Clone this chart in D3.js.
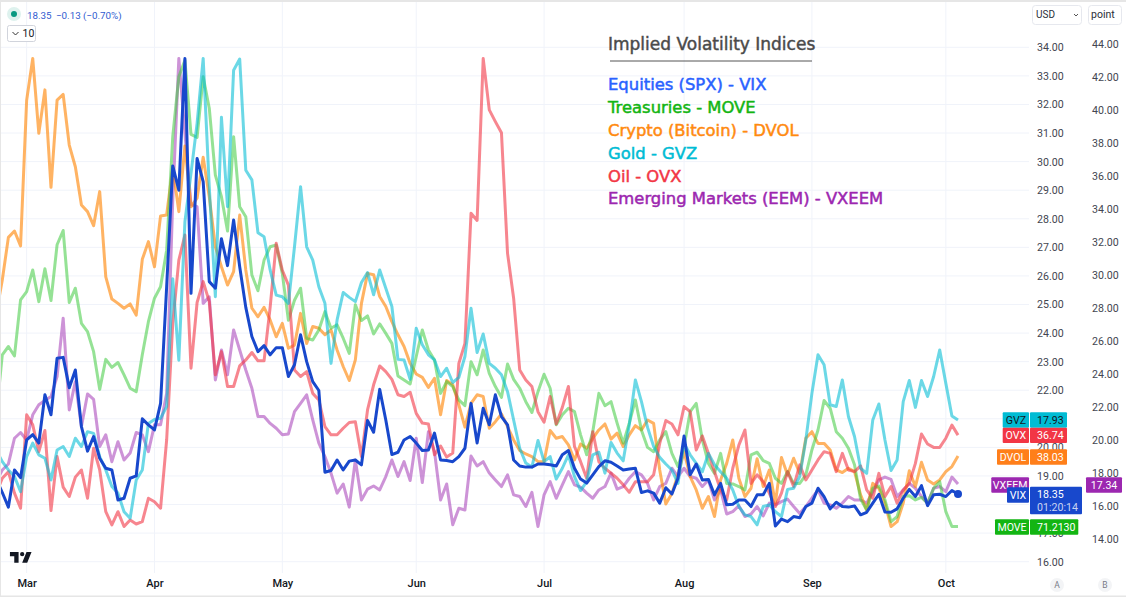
<!DOCTYPE html>
<html><head><meta charset="utf-8">
<script src="https://cdn.jsdelivr.net/npm/d3@7/dist/d3.min.js"></script>
<style>
html,body{margin:0;padding:0;background:#fff;overflow:hidden}
svg{display:block}
text{font-family:Roboto,sans-serif}
</style></head><body>
<svg id="c" width="1126" height="597"></svg>
<script>
const vix=[18.9,18.42,17.91,19.21,18.94,20.26,20.45,20.15,21.84,21.14,23.12,
23.15,22.09,22.71,20.73,19.87,20.38,19.62,19.27,19.21,18.16,
18.22,18.92,19.0,21.0,20.79,20.61,21.54,25.62,29.85,29.0,
33.61,25.39,30.11,29.3,25.8,25.57,27.3,26.36,27.96,26.32,
24.9,23.88,23.35,23.56,23.24,23.49,23.49,22.48,22.89,23.94,
23.0,22.3,21.99,19.13,19.19,19.56,19.21,19.52,19.56,19.39,
20.94,20.53,22.03,20.96,19.75,19.83,20.26,20.38,20.15,19.89,
19.91,20.5,19.56,19.54,19.5,19.68,19.97,21.54,20.15,21.37,
20.79,21.84,21.08,20.79,19.56,19.35,19.31,19.31,19.42,19.42,
19.39,19.35,19.74,19.89,19.27,18.89,18.75,19.04,19.33,19.53,
19.48,19.35,19.21,19.24,19.27,18.42,18.48,18.40,18.05,18.59,
18.37,18.92,20.40,19.04,19.42,18.86,18.88,18.34,18.74,17.99,
18.01,18.16,18.16,17.93,18.34,18.34,18.74,17.25,17.49,17.40,
17.58,17.54,17.93,18.05,18.57,18.28,17.85,18.08,17.93,17.91,
17.95,17.64,17.73,18.05,18.36,17.74,17.73,17.85,18.22,18.53,
18.28,18.66,17.96,18.34,18.36,18.28,18.49,18.37];
const move=[21.1,23.24,23.53,23.2,25.16,25.45,26.21,25.10,26.25,25.14,27.09,
27.59,25.07,25.57,24.34,24.05,23.35,22.03,23.08,22.80,22.97,
22.54,22.07,21.95,23.24,24.4,25.22,25.62,26.9,30.87,32.97,
33.55,30.95,30.85,32.97,31.87,29.53,28.77,27.57,30.87,28.42,
28.07,26.03,25.48,26.55,27.02,27.08,26.09,24.45,25.15,25.57,
23.82,23.76,24.11,24.75,24.17,24.29,23.82,23.29,24.99,24.44,
24.6,23.97,24.32,23.99,23.64,22.5,22.36,22.22,23.18,24.11,
23.41,23.06,21.89,22.3,22.13,21.66,21.46,23.0,22.54,23.41,
22.59,22.13,21.75,22.92,22.38,22.07,21.6,21.22,21.95,22.56,
22.07,20.79,21.14,21.37,21.25,20.44,19.74,20.55,21.89,21.46,
21.6,20.85,20.15,20.85,21.66,20.6,20.0,19.85,20.26,20.55,
19.79,19.33,20.03,21.25,21.54,20.26,19.44,19.09,19.79,18.74,
18.72,18.63,18.51,19.74,19.83,19.54,19.44,18.92,18.74,19.15,
18.74,18.74,19.04,19.91,20.61,21.64,21.37,20.55,20.32,19.97,
19.39,18.19,17.81,18.57,18.65,18.16,17.40,17.58,18.28,18.31,
18.16,18.25,18.05,18.57,18.8,17.75,17.23,17.23];
const dvol=[24.67,25.86,27.35,27.57,27.05,32.15,33.61,30.99,32.51,29.1,32.15,
32.35,30.58,29.82,28.48,28.25,27.76,28.95,25.97,25.19,25.04,
24.87,25.02,24.63,26.58,27.2,26.32,28.1,28.13,29.82,28.25,
30.55,28.42,28.72,30.15,28.77,27.02,26.32,25.68,26.15,28.13,
26.21,24.87,24.57,24.9,24.46,23.87,24.34,23.47,23.58,24.69,
23.64,24.23,24.17,23.94,24.11,23.41,22.83,22.34,23.06,25.04,
26.09,26.04,25.28,24.93,24.4,23.94,23.53,22.94,22.57,22.45,
22.1,22.42,21.14,22.34,22.19,21.49,20.71,21.54,21.84,21.78,
20.67,20.9,21.17,20.73,20.26,19.89,19.77,19.68,19.5,19.5,
20.59,20.32,20.38,20.09,19.56,20.12,19.97,20.32,20.61,20.82,
20.29,20.5,20.03,20.44,20.76,20.61,20.96,20.84,19.21,18.02,
18.39,19.04,19.85,18.98,18.51,17.87,18.28,17.58,18.86,19.44,
20.26,18.92,18.28,18.57,19.6,18.63,19.21,18.05,19.65,19.04,
19.62,19.09,20.32,20.55,20.14,20.14,19.91,19.21,19.12,19.27,
19.15,18.34,17.81,18.74,18.57,18.05,17.23,17.4,18.05,19.18,
18.63,19.48,18.86,18.72,18.86,19.15,19.33,19.70];
const gvz=[19.9,19.5,19.21,18.98,18.45,19.68,20.15,19.74,19.62,18.86,19.91,
20.03,19.68,20.32,20.03,20.55,20.49,19.68,19.21,18.63,18.4,
17.75,17.52,18.86,19.21,20.84,20.98,21.02,21.43,25.9,23.05,
27.9,29.59,31.34,33.61,29.12,25.27,31.55,28.42,33.2,33.59,
29.7,29.36,27.51,27.37,26.21,25.33,25.27,25.04,27.02,29.12,
27.02,26.55,25.62,25.04,22.94,24.46,25.42,25.25,25.1,25.77,
26.12,25.34,26.21,25.57,24.93,23.08,23.06,22.38,24.17,23.59,
23.24,23.06,22.48,22.77,22.27,22.45,23.18,24.87,23.32,23.97,
22.94,22.77,22.54,21.95,20.96,19.97,19.45,19.31,20.24,19.5,
19.68,18.89,19.27,19.74,18.98,18.49,18.8,19.74,19.83,19.1,
20.17,19.8,19.53,20.79,22.36,21.6,20.7,20.03,19.65,19.42,
19.21,18.74,20.14,19.74,19.44,19.15,19.79,19.39,19.15,18.92,
18.51,17.93,17.64,17.58,17.29,17.93,17.99,17.75,17.58,18.53,
18.57,18.98,20.26,21.89,23.24,22.89,21.49,21.43,22.36,21.08,
20.38,19.27,19.09,20.96,21.52,20.26,19.19,19.56,21.6,22.34,
21.4,22.34,21.78,22.48,23.41,22.24,21.1,20.96];
const ovx=[18.4,18.92,19.15,18.4,17.87,21.14,20.79,19.85,20.59,17.79,19.68,
18.61,18.28,18.96,19.21,18.22,19.97,19.21,17.75,17.29,17.75,
17.23,17.46,17.32,17.4,18.22,18.1,17.87,20.26,24.34,26.55,
27.43,22.77,25.07,25.8,25.1,22.54,23.35,22.13,22.13,22.85,
23.06,23.32,23.03,23.03,24.9,27.14,26.2,25.68,22.71,22.48,
22.65,21.89,21.66,20.73,20.44,20.44,20.67,20.87,20.9,19.68,
21.31,22.19,22.85,22.65,22.38,21.84,21.78,21.93,21.19,20.85,
20.82,19.74,20.05,19.66,19.8,22.94,23.64,28.19,27.94,33.61,
31.81,31.4,31.01,26.79,25.22,22.71,22.36,22.13,21.25,20.88,
21.78,20.82,21.4,22.13,20.03,19.5,18.92,20.55,19.5,19.27,
19.1,18.92,18.69,18.43,18.8,18.8,18.8,19.04,20.14,20.94,
20.82,20.44,21.43,21.25,19.91,20.4,19.79,19.15,18.51,18.16,
19.27,20.08,20.61,18.74,19.04,18.8,18.4,17.93,18.4,19.15,
18.63,19.39,18.86,19.21,19.56,19.85,19.79,19.15,19.79,19.21,
19.15,19.35,18.51,18.22,19.09,18.28,18.63,18.05,18.51,18.74,
19.44,20.47,20.12,20.0,20.0,20.32,20.78,20.43];
const vxeem=[18.8,19.21,19.42,20.32,20.52,20.26,21.14,21.49,21.64,21.78,22.48,
24.52,21.31,22.3,20.73,21.87,21.68,20.03,20.44,19.5,20.2,
19.56,19.8,20.52,20.44,19.85,20.79,20.79,21.89,28.65,33.61,
31.0,28.5,28.42,25.04,25.27,22.36,23.41,22.54,24.11,23.41,
22.71,22.07,21.08,21.08,20.84,20.67,20.44,20.47,21.25,21.54,
21.84,20.96,20.15,19.68,19.1,18.4,18.72,17.91,19.56,18.16,
18.54,18.65,18.51,18.98,19.56,18.98,19.5,18.84,20.32,18.77,
20.55,19.85,18.16,18.72,17.29,17.87,17.81,19.7,19.35,19.5,
19.1,18.86,18.63,19.04,18.34,18.28,17.93,18.43,17.23,18.34,
18.8,18.22,18.69,19.15,18.69,18.61,18.4,18.22,18.51,18.63,
19.1,18.54,18.63,18.92,19.15,19.04,18.74,18.16,18.63,18.74,
19.27,18.98,19.27,18.98,18.92,18.63,18.86,18.16,18.51,17.67,
17.75,17.96,17.58,17.67,17.93,17.6,18.05,17.99,18.1,18.19,
17.93,17.69,17.93,18.22,18.51,18.05,17.99,17.87,18.05,18.28,
18.16,18.16,18.05,18.45,18.86,18.96,18.88,18.28,18.51,18.74,
18.57,18.28,18.05,18.57,18.63,18.45,18.96,18.72];
const monthLabels=["Mar","Apr","May","Jun","Jul","Aug","Sep","Oct"];
const monthIndex=[5,26,47,69,90,113,134,156];
const leftTicks=d3.range(16,35);
const rightTicks=d3.range(14,45,2);
const titleText="Implied Volatility Indices";
const legendLabels=["Equities (SPX) - VIX","Treasuries - MOVE","Crypto (Bitcoin) - DVOL","Gold - GVZ","Oil - OVX","Emerging Markets (EEM) - VXEEM"];
const tagNames=["GVZ","OVX","DVOL","VXEEM","VIX","MOVE"];
const tagValues=["17.93","36.74","38.03","17.34","18.35","71.2130"];

const col={vix:"#1848cc",move:"#13b513",dvol:"#ff8a0f",gvz:"#00bcd4",ovx:"#f23645",vxeem:"#9c27b0"};
const svg=d3.select("#c");
const x=d3.scaleLinear().domain([1,158]).range([2.3,958]);
const yA=d3.scaleLinear().domain([34,16]).range([47.3,561.7]);
const yB=d3.scaleLinear().domain([44,14]).range([44.3,539.3]);

svg.append("defs").append("clipPath").attr("id","plot").append("rect").attr("x",1).attr("y",2).attr("width",1028).attr("height",570);

// frame
svg.append("rect").attr("x",0).attr("y",0).attr("width",1126).attr("height",2).attr("fill","#e6e6e6");
svg.append("rect").attr("x",0).attr("y",595.5).attr("width",1126).attr("height",1.5).attr("fill","#e6e6e6");
svg.append("rect").attr("x",0).attr("y",0).attr("width",1).attr("height",597).attr("fill","#e6e6e6");

// grid
const g=svg.append("g");
g.selectAll("line.h").data(leftTicks).join("line").attr("class","h").attr("x1",1).attr("x2",1029)
 .attr("y1",d=>yA(d)).attr("y2",d=>yA(d)).attr("stroke","#f0f3fa");
g.selectAll("line.v").data(monthIndex).join("line").attr("class","v").attr("y1",2).attr("y2",573)
 .attr("x1",d=>x(d)).attr("x2",d=>x(d)).attr("stroke","#f0f3fa");

// title and legend
const fam="'DejaVu Sans',sans-serif";
svg.append("text").attr("x",608).attr("y",50).text(titleText).attr("fill","#4a4a4a")
 .style("font-family",fam).style("font-size","17px").style("stroke","#4a4a4a").style("stroke-width",.45);
svg.append("line").attr("x1",610).attr("x2",812).attr("y1",61).attr("y2",61).attr("stroke","#555").attr("stroke-width",1);
const legCols=["#2962ff",col.move,col.dvol,col.gvz,col.ovx,col.vxeem];
const legY=[90,113,136,159,182,204];
svg.selectAll("text.leg").data(legendLabels).join("text").attr("class","leg").attr("x",608)
 .attr("y",(d,i)=>legY[i]).text(d=>d).attr("fill",(d,i)=>legCols[i]).attr("stroke",(d,i)=>legCols[i]).attr("stroke-width",.5)
 .style("font-family",fam).style("font-size","16.4px");

// lines
const line=d3.line().x((d,i)=>x(i)).y(d=>yA(d));
const lines=svg.append("g").attr("clip-path","url(#plot)");
[[vxeem,col.vxeem,.5],[dvol,col.dvol,.65],[move,"#3ecb3e",.55],[ovx,col.ovx,.6],[gvz,col.gvz,.58],[vix,col.vix,1]].forEach(([a,c,o])=>{
  lines.append("path").datum(a).attr("d",line).attr("fill","none").attr("stroke",c).attr("stroke-opacity",o)
   .attr("stroke-width",3).attr("stroke-linejoin","round");
});
svg.append("circle").attr("cx",x(158)).attr("cy",yA(vix[158])).attr("r",4).attr("fill",col.vix);

// axes
const axA=svg.append("g").attr("transform","translate(1031,0)").call(d3.axisRight(yA).tickValues(leftTicks).tickSize(0).tickPadding(6).tickFormat(d3.format(".2f")));
const axB=svg.append("g").attr("transform","translate(1086,0)").call(d3.axisRight(yB).tickValues(rightTicks).tickSize(0).tickPadding(6).tickFormat(d3.format(".2f")));
[axA,axB].forEach(a=>{a.select(".domain").remove();a.selectAll("text").attr("fill","#434651").style("font-size","10.6px").style("font-family","Roboto,sans-serif");});
const axX=svg.append("g").attr("transform","translate(0,574)").call(d3.axisBottom(x).tickValues(monthIndex).tickSize(0).tickPadding(5).tickFormat((d,i)=>monthLabels[i]));
axX.select(".domain").remove();
axX.selectAll("text").attr("fill","#131722").style("font-size","11px").style("font-weight",500).style("font-family","Roboto,sans-serif");

// price tags
const tagLayout=[
 {nx:1002.7,y:412.3,h:15.4,vw:37,c:col.gvz,t:"#131722"},
 {nx:1002.7,y:427.7,h:15.4,vw:37,c:col.ovx,t:"#fff"},
 {nx:997,y:449.3,h:15.4,vw:37,c:"#ff7f1a",t:"#fff"},
 {nx:991.3,y:477.3,h:15.4,vw:0,c:col.vxeem,t:"#fff"},
 {nx:1007,y:487.3,h:15.4,vw:52,c:col.vix,t:"#fff",two:true},
 {nx:995,y:519.3,h:15.4,vw:48.3,c:col.move,t:"#fff"}];
tagLayout.forEach((l,i)=>{
  svg.append("rect").attr("x",l.nx).attr("y",l.y).attr("width",1029-l.nx).attr("height",l.h).attr("fill",l.c).attr("rx",1);
  svg.append("text").attr("x",(l.nx+1029)/2).attr("y",l.y+11.5).attr("text-anchor","middle").text(tagNames[i]).attr("fill",l.t).style("font-size","10.6px");
  if(l.vw){
    const h=l.two?27.6:l.h, y=l.two?l.y-.6:l.y;
    svg.append("rect").attr("x",1030).attr("y",y).attr("width",l.vw).attr("height",h).attr("fill",l.c).attr("rx",1);
    svg.append("text").attr("x",1037).attr("y",y+11.5).text(tagValues[i]).attr("fill",l.t).style("font-size","10.6px");
    if(l.two) svg.append("text").attr("x",1037).attr("y",y+24).text("01:20:14").attr("fill","#c9d3f2").style("font-size","10.6px");
  }else{
    svg.append("rect").attr("x",1086).attr("y",l.y).attr("width",36).attr("height",l.h).attr("fill",l.c).attr("rx",1);
    svg.append("text").attr("x",1104).attr("y",l.y+11.5).attr("text-anchor","middle").text(tagValues[i]).attr("fill",l.t).style("font-size","10.6px");
  }
});

// A/B buttons
[["A",1057],["B",1105]].forEach(([t,cx])=>{
  svg.append("circle").attr("cx",cx).attr("cy",585).attr("r",7).attr("fill","#f3f4f6");
  svg.append("text").attr("x",cx).attr("y",588).attr("text-anchor","middle").text(t).attr("fill","#787b86").style("font-size","8.5px");
});

// unit boxes
svg.append("rect").attr("x",1032.5).attr("y",5.5).attr("width",49).attr("height",19).attr("rx",3).attr("fill","#fff").attr("stroke","#e6e8ee");
svg.append("text").attr("x",1036).attr("y",18).text("USD").attr("fill","#2a2e39").style("font-size","10px");
svg.append("path").attr("d","M1074 14l2 2 2-2").attr("fill","none").attr("stroke","#555");
svg.append("rect").attr("x",1088.5).attr("y",5.5).attr("width",33).attr("height",19).attr("rx",3).attr("fill","#fff").attr("stroke","#e6e8ee");
svg.append("text").attr("x",1091).attr("y",18).text("point").attr("fill","#2a2e39").style("font-size","10.5px");

// header
svg.append("circle").attr("cx",14).attr("cy",14).attr("r",7).attr("fill","#def2ee");
svg.append("circle").attr("cx",14).attr("cy",14).attr("r",3).attr("fill","#089981");
[["18.35",27],["−0.13",56],["(−0.70%)",83]].forEach(([t,px])=>{
  svg.append("text").attr("x",px).attr("y",18.5).text(t).attr("fill","#2f5bd0").style("font-size","9.8px");
});
svg.append("rect").attr("x",7.5).attr("y",25.5).attr("width",28).attr("height",16).attr("rx",2).attr("fill","#fff").attr("stroke","#d1d4dc");
svg.append("path").attr("d","M12.5 32l3 3 3-3").attr("fill","none").attr("stroke","#333");
svg.append("text").attr("x",22.5).attr("y",37).text("10").attr("fill","#131722").style("font-size","10.5px");

// logo
svg.append("path").attr("transform","translate(8.5,547.7) scale(0.72)").attr("fill","#131722")
 .attr("d","M14 6H2v6h6v9h6V6Zm12 15h-7l6-15h7l-6 15Zm-7-9a3 3 0 1 0 0-6 3 3 0 0 0 0 6Z");
</script>
</body></html>
